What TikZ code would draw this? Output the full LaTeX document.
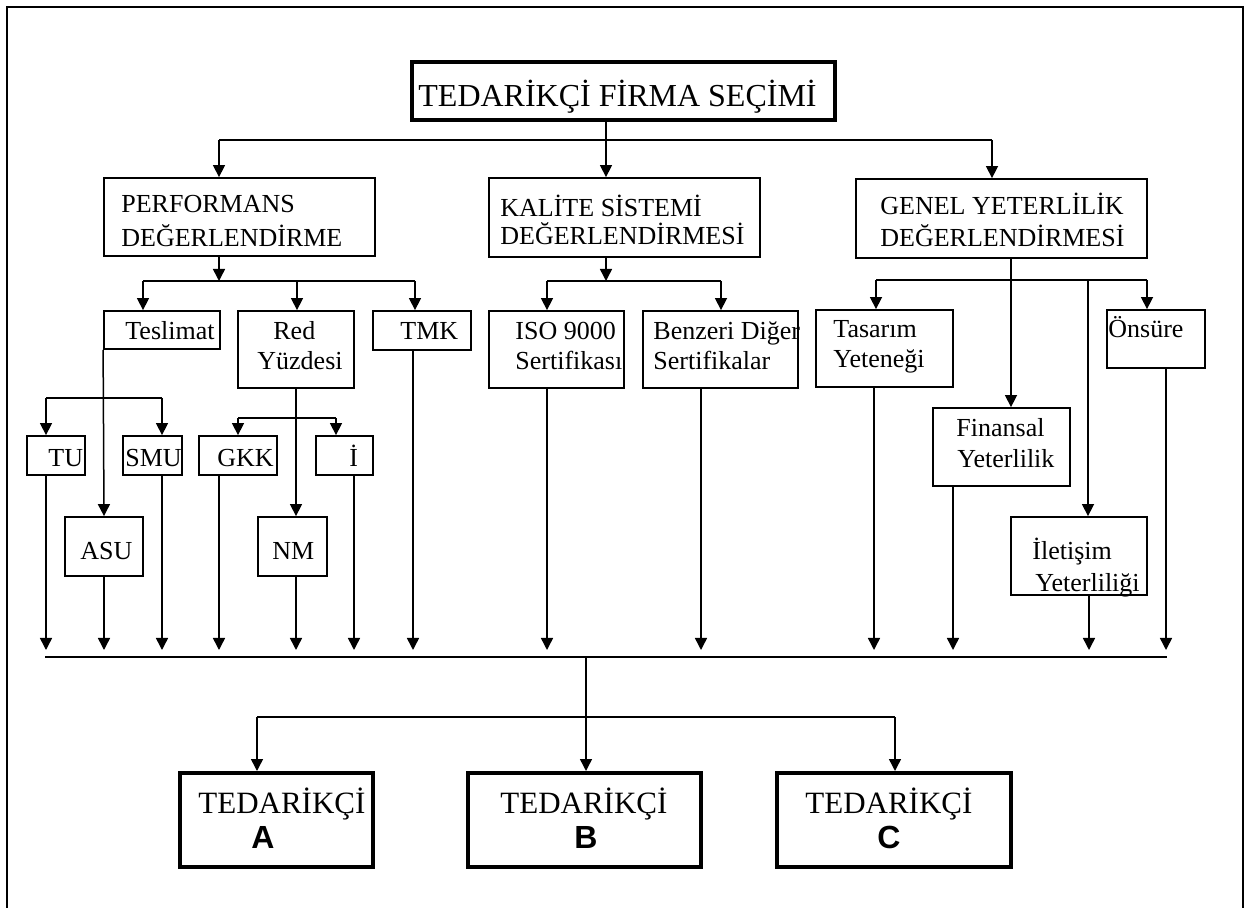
\documentclass[tikz,border=0pt]{standalone}
\usepackage{fontspec}
\setmainfont{Liberation Serif}
\newfontfamily\supsans{Liberation Sans}
\usetikzlibrary{arrows.meta}
\begin{document}
\begin{tikzpicture}[x=0.5pt,y=-0.5pt,
  box/.style={draw, line width=0.9pt, inner sep=0pt, rectangle},
  tbox/.style={draw, line width=2.2pt, inner sep=0pt, rectangle},
  txt/.style={inner sep=0pt, anchor=base west, font=\fontsize{13}{15}\selectfont},
  ttl/.style={inner sep=0pt, anchor=base west, font=\fontsize{16}{19}\selectfont},
  stxt/.style={inner sep=0pt, anchor=base west, font=\fontsize{15.5}{18}\selectfont},
  sletter/.style={inner sep=0pt, anchor=base, font=\supsans\bfseries\fontsize{16}{19}\selectfont},
  conn/.style={line width=0.75pt},
  arr/.style={conn, -{Triangle[width=6pt,length=6pt]}}]
\useasboundingbox (0,0) rectangle (1253,908);
% outer frame
\draw[line width=1pt] (7,908) -- (7,7) -- (1243,7) -- (1243,908);
% boxes
\node[tbox, minimum width=211.5pt, minimum height=29pt] (T) at (623.5,91) {};
\node[box, minimum width=135.5pt, minimum height=39pt] (P) at (239.5,217) {};
\node[box, minimum width=135.5pt, minimum height=39.5pt] (K) at (624.5,217.5) {};
\node[box, minimum width=145.5pt, minimum height=39.5pt] (G) at (1001.5,218.5) {};
\node[box, minimum width=58pt, minimum height=19pt] (Tes) at (162,330) {};
\node[box, minimum width=58pt, minimum height=38.5pt] (Red) at (296,349.5) {};
\node[box, minimum width=49pt, minimum height=19.5pt] (TMK) at (422,330.5) {};
\node[box, minimum width=29pt, minimum height=19.5pt] (TU) at (56,455.5) {};
\node[box, minimum width=29.5pt, minimum height=19.5pt] (SMU) at (152.5,455.5) {};
\node[box, minimum width=39pt, minimum height=19.5pt] (GKK) at (238,455.5) {};
\node[box, minimum width=28.5pt, minimum height=19.5pt] (Ii) at (344.5,455.5) {};
\node[box, minimum width=39pt, minimum height=29.5pt] (ASU) at (104,546.5) {};
\node[box, minimum width=34.5pt, minimum height=29.5pt] (NM) at (292.5,546.5) {};
\node[box, minimum width=67.5pt, minimum height=38.5pt] (ISO) at (556.5,349.5) {};
\node[box, minimum width=77.5pt, minimum height=38.5pt] (Ben) at (720.5,349.5) {};
\node[box, minimum width=68.5pt, minimum height=38.5pt] (Tas) at (884.5,348.5) {};
\node[box, minimum width=49pt, minimum height=29pt] (Ons) at (1156,339) {};
\node[box, minimum width=68.5pt, minimum height=39pt] (Fin) at (1001.5,447) {};
\node[box, minimum width=68pt, minimum height=39pt] (Ile) at (1079,556) {};
\node[tbox, line width=2pt, minimum width=96.5pt, minimum height=47pt] (A) at (276.5,820) {};
\node[tbox, line width=2pt, minimum width=116.5pt, minimum height=47pt] (B) at (584.5,820) {};
\node[tbox, line width=2pt, minimum width=117pt, minimum height=47pt] (C) at (894,820) {};
% texts
\node[ttl] (tT) at (418,107) {TEDARİKÇİ FİRMA SEÇİMİ};
\node[txt] (P1) at (121,213) {PERFORMANS};
\node[txt] (P2) at (121,247) {DEĞERLENDİRME};
\node[txt] (K1) at (500,217) {KALİTE SİSTEMİ};
\node[txt] (K2) at (500,245) {DEĞERLENDİRMESİ};
\node[txt] (G1) at (880,215) {GENEL YETERLİLİK};
\node[txt] (G2) at (880,247) {DEĞERLENDİRMESİ};
\node[txt] (Tes1) at (125,340) {Teslimat};
\node[txt] (Red1) at (273,340) {Red};
\node[txt] (Red2) at (257,370) {Yüzdesi};
\node[txt] (TMK1) at (400,340) {TMK};
\node[txt] (TU1) at (48,467) {TU};
\node[txt] (SMU1) at (125,467) {SMU};
\node[txt] (GKK1) at (217,467) {GKK};
\node[txt] (Ii1) at (349,467) {İ};
\node[txt] (ASU1) at (80,560) {ASU};
\node[txt] (NM1) at (272,560) {NM};
\node[txt] (ISO1) at (515,340) {ISO 9000};
\node[txt] (ISO2) at (515,370) {Sertifikası};
\node[txt] (Ben1) at (653,340) {Benzeri Diğer};
\node[txt] (Ben2) at (653,370) {Sertifikalar};
\node[txt] (Tas1) at (833,338) {Tasarım};
\node[txt] (Tas2) at (833,368) {Yeteneği};
\node[txt] (Ons1) at (1108,338) {Önsüre};
\node[txt] (Fin1) at (956,437) {Finansal};
\node[txt] (Fin2) at (957,468) {Yeterlilik};
\node[txt] (Ile1) at (1032,560) {İletişim};
\node[txt] (Ile2) at (1035,592) {Yeterliliği};
\node[stxt] (A1) at (198,813) {TEDARİKÇİ};
\node[stxt] (B1) at (500,813) {TEDARİKÇİ};
\node[stxt] (C1) at (805,813) {TEDARİKÇİ};
\node[sletter] (A2) at (263,848) {A};
\node[sletter] (B2) at (586,848) {B};
\node[sletter] (C2) at (889,848) {C};
% top branch
\coordinate (c0) at (606,140);
\coordinate (c0l) at (219,140);
\coordinate (c0r) at (992,140);
\draw[conn] (T.south -| c0) -- (c0);
\draw[conn] (c0l) -- (c0r);
\draw[arr] (c0l) -- (P.north -| c0l);
\draw[arr] (c0) -- (K.north -| c0);
\draw[arr] (c0r) -- (G.north -| c0r);
% performans branch
\coordinate (p0) at (219,281);
\coordinate (p0l) at (143,281);
\coordinate (p0m) at (297,281);
\coordinate (p0r) at (415,281);
\draw[arr] (P.south -| p0) -- (p0);
\draw[conn] (p0l) -- (p0r);
\draw[arr] (p0l) -- (Tes.north -| p0l);
\draw[arr] (p0m) -- (Red.north -| p0m);
\draw[arr] (p0r) -- (TMK.north -| p0r);
% teslimat branch
\coordinate (s0l) at (46,398);
\coordinate (s0r) at (162,398);
\draw[arr] (Tes.south west) -- (ASU.north);
\draw[conn] (s0l) -- (s0r);
\draw[arr] (s0l) -- (TU.north -| s0l);
\draw[arr] (s0r) -- (SMU.north -| s0r);
% red branch
\coordinate (r0) at (296,418);
\coordinate (r0l) at (238,418);
\coordinate (r0r) at (336,418);
\draw[arr] (Red.south -| r0) -- (NM.north -| r0);
\draw[conn] (r0l) -- (r0r);
\draw[arr] (r0l) -- (GKK.north -| r0l);
\draw[arr] (r0r) -- (Ii.north -| r0r);
% kalite branch
\coordinate (k0) at (606,281);
\coordinate (k0l) at (547,281);
\coordinate (k0r) at (721,281);
\draw[arr] (K.south -| k0) -- (k0);
\draw[conn] (k0l) -- (k0r);
\draw[arr] (k0l) -- (ISO.north -| k0l);
\draw[arr] (k0r) -- (Ben.north -| k0r);
% genel branch
\coordinate (g0) at (1011,280);
\coordinate (g0l) at (876,280);
\coordinate (g0r) at (1147,280);
\coordinate (g0i) at (1088,280);
\draw[arr] (G.south -| g0) -- (Fin.north -| g0);
\draw[conn] (g0l) -- (g0r);
\draw[arr] (g0l) -- (Tas.north -| g0l);
\draw[arr] (g0r) -- (Ons.north -| g0r);
\draw[arr] (g0i) -- (Ile.north -| g0i);
% collector
\coordinate (m0l) at (45,657);
\coordinate (m0r) at (1167,657);
\draw[line width=1pt] (m0l) -- (m0r);
\foreach \n/\x in {TU/46, ASU/104, SMU/162, GKK/219, NM/296, Ii/354, TMK/413, ISO/547, Ben/701, Tas/874, Fin/953, Ile/1089, Ons/1166}{
  \coordinate (e\n) at (\x,650);
  \draw[arr] (\n.south -| e\n) -- (e\n);
}
% suppliers
\coordinate (b0) at (586,657);
\coordinate (b1) at (586,717);
\coordinate (b1l) at (257,717);
\coordinate (b1r) at (895,717);
\draw[conn] (b0) -- (b1);
\draw[conn] (b1l) -- (b1r);
\draw[arr] (b1l) -- (A.north -| b1l);
\draw[arr] (b1) -- (B.north -| b1);
\draw[arr] (b1r) -- (C.north -| b1r);
\end{tikzpicture}
\end{document}
